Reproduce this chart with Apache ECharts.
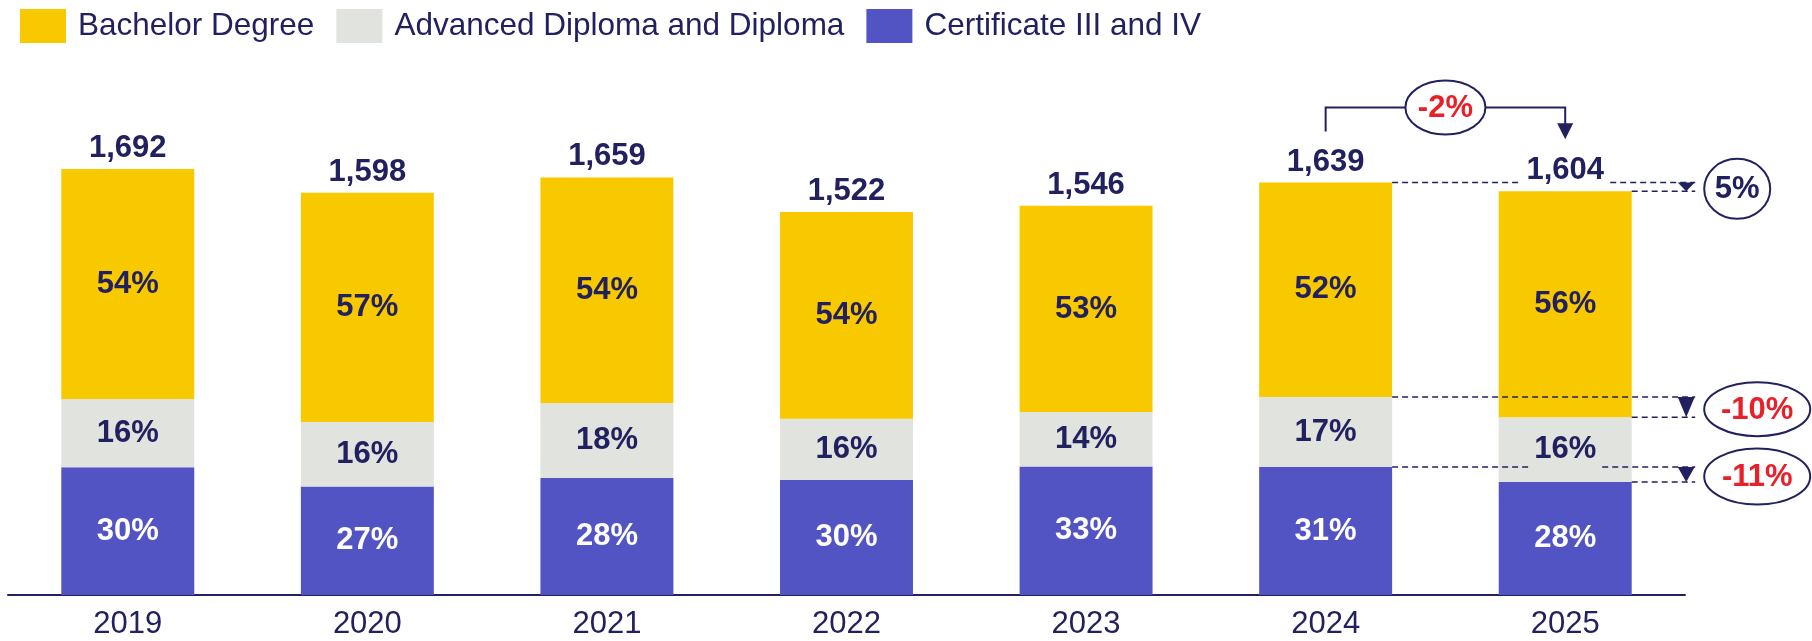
<!DOCTYPE html>
<html>
<head>
<meta charset="utf-8">
<style>
  html, body { margin: 0; padding: 0; background: #fff; }
  #main { width: 1812px; height: 641px; }
</style>
<script src="https://cdn.jsdelivr.net/npm/echarts@6/dist/echarts.min.js"></script>
</head>
<body>
<div id="main"></div>
<script>
// chart data
const years = ['2019', '2020', '2021', '2022', '2023', '2024', '2025']
const totals = [1692, 1598, 1659, 1522, 1546, 1639, 1604]
const bachelorPct = [54, 57, 54, 54, 53, 52, 56]
const diplomaPct = [16, 16, 18, 16, 14, 17, 16]
const certPct = [30, 27, 28, 30, 33, 31, 28]
// change 2024 -> 2025: total, bachelor, diploma, certificate
const changeLabels = ['-2%', '5%', '-10%', '-11%']

const NAVY = '#222160'
const RED = '#E8202A'
const FONT = 'Liberation Sans, Arial, sans-serif'

const share = (pct) => totals.map((t, i) => t * pct[i] / 100)

const chart = echarts.init(document.getElementById('main'))

function segLabel(pctArr, color) {
  return {
    show: true,
    position: 'inside',
    color: color,
    fontFamily: FONT,
    fontWeight: 'bold',
    fontSize: 31,
    formatter: p => pctArr[p.dataIndex] + '%'
  }
}

chart.setOption({
  animation: false,
  textStyle: { fontFamily: FONT },
  legend: {
    data: ['Bachelor Degree', 'Advanced Diploma and Diploma', 'Certificate III and IV'],
    left: 15,
    top: 4,
    icon: 'rect',
    itemWidth: 46,
    itemHeight: 34,
    itemGap: 22,
    selectedMode: false,
    textStyle: {
      color: NAVY,
      fontSize: 31.5,
      fontFamily: FONT,
      padding: [0, 0, 0, 7]
    }
  },
  grid: { left: 8, right: 127, top: 91.6, bottom: 46 },
  xAxis: {
    type: 'category',
    data: years,
    axisLine: { lineStyle: { color: NAVY, width: 2 } },
    axisTick: { show: false },
    axisLabel: { color: NAVY, fontSize: 31, fontFamily: FONT, margin: 14 }
  },
  yAxis: {
    type: 'value',
    min: 0,
    max: 2000,
    show: false,
    splitLine: { show: false }
  },
  series: [
    {
      name: 'Certificate III and IV',
      type: 'bar',
      stack: 'total',
      barWidth: '55.5%',
      itemStyle: { color: '#5354C4' },
      label: segLabel(certPct, '#ffffff'),
      data: share(certPct)
    },
    {
      name: 'Advanced Diploma and Diploma',
      type: 'bar',
      stack: 'total',
      itemStyle: { color: '#E1E3DE' },
      label: segLabel(diplomaPct, NAVY),
      data: share(diplomaPct)
    },
    {
      name: 'Bachelor Degree',
      type: 'bar',
      stack: 'total',
      itemStyle: { color: '#F9C900' },
      label: segLabel(bachelorPct, NAVY),
      data: share(bachelorPct)
    },
    {
      // zero-height bar on top of the stack, carries the total label
      name: 'Total',
      type: 'bar',
      stack: 'total',
      silent: true,
      itemStyle: { color: 'transparent' },
      label: {
        show: true,
        position: 'top',
        distance: 5,
        color: NAVY,
        fontFamily: FONT,
        fontWeight: 'bold',
        fontSize: 31,
        formatter: p => totals[p.dataIndex].toLocaleString('en-US')
      },
      data: totals.map(() => 0)
    }
  ]
})

// annotations for 2024 -> 2025 change
function drawAnnotations() {
  const px = (i, v) => chart.convertToPixel({ gridIndex: 0 }, [i, v])
  const i24 = 5
  const i25 = 6
  const c24 = px(i24, 0)[0]
  const c25 = px(i25, 0)[0]
  const band = c25 - c24
  const hw = band * 0.555 / 2
  const xR = c25 + 130
  const arrowX = c25 + 121
  const els = []
  const lineStyle = { stroke: NAVY, lineWidth: 1.5, lineDash: [6, 4] }

  function dash(x1, x2, y) {
    els.push({ type: 'line', z: 100, shape: { x1: x1, y1: y, x2: x2, y2: y }, style: lineStyle })
  }
  function arrow(x, yTop, yTip, half) {
    els.push({
      type: 'polygon', z: 101,
      shape: { points: [[x - half, yTop], [x + half, yTop], [x, yTip]] },
      style: { fill: NAVY }
    })
  }
  function bubble(cx, cy, rx, ry, text, color) {
    els.push({
      type: 'ellipse', z: 102,
      shape: { cx: cx, cy: cy, rx: rx, ry: ry },
      style: { fill: '#fff', stroke: NAVY, lineWidth: 2 }
    })
    els.push({
      type: 'text', z: 103, x: cx, y: cy + 1,
      style: {
        text: text, fill: color, font: 'bold 31px ' + FONT,
        align: 'center', verticalAlign: 'middle'
      }
    })
  }
  function row(yUp, yDn, gap, label, color, cxOff, rx, ry) {
    if (gap > 0) {
      dash(c24 + hw, c25 - gap, yUp)
      dash(c25 + gap, xR, yUp)
    } else {
      dash(c24 + hw, xR, yUp)
    }
    dash(c25 + hw, xR, yDn)
    arrow(arrowX, yUp, yDn, 8.5)
    bubble(c25 + cxOff, (yUp + yDn) / 2 + 2, rx, ry, label, color)
  }

  const top24 = px(i24, totals[i24])[1]
  const top25 = px(i25, totals[i25])[1]

  // bracket over totals
  const yH = top24 - 75
  els.push({
    type: 'polyline', z: 100,
    shape: { points: [[c24, top24 - 51], [c24, yH], [c25, yH], [c25, top25 - 67]] },
    style: { stroke: NAVY, lineWidth: 2, fill: null }
  })
  arrow(c25, top25 - 68, top25 - 52, 8)
  bubble((c24 + c25) / 2, yH, 40, 27, changeLabels[0], RED)

  const cert24 = totals[i24] * certPct[i24] / 100
  const cert25 = totals[i25] * certPct[i25] / 100
  const dip24 = cert24 + totals[i24] * diplomaPct[i24] / 100
  const dip25 = cert25 + totals[i25] * diplomaPct[i25] / 100

  row(top24, top25, 45, changeLabels[1], NAVY, 172, 33, 30)
  row(px(i24, dip24)[1], px(i25, dip25)[1], 0, changeLabels[2], RED, 192, 53, 27)
  row(px(i24, cert24)[1], px(i25, cert25)[1], 37, changeLabels[3], RED, 192, 53, 28)

  chart.setOption({ graphic: { elements: els } })
}

drawAnnotations()
window.addEventListener('resize', function() {
  chart.resize()
  drawAnnotations()
})
</script>
</body>
</html>
